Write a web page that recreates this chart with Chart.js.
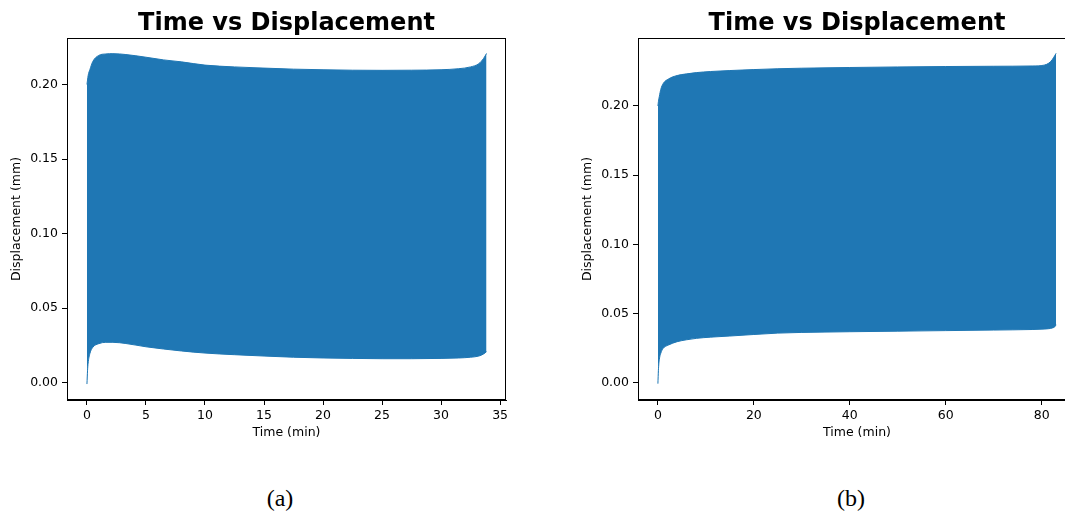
<!DOCTYPE html>
<html lang="en">
<head>
    <meta charset="UTF-8">
    <title>Time vs Displacement</title>
    <script src="https://cdn.jsdelivr.net/npm/chart.js"></script>
    <style>
        body { margin: 0; background: #fff; }
        #wrap { position: relative; width: 1065px; height: 518px; overflow: hidden; background: #fff; }
        canvas { position: absolute; top: 0; }
        .cap { position: absolute; top: 484px; width: 80px; text-align: center;
               font: 24px "Liberation Serif", serif; line-height: 28px; color: #000; }
    </style>
    <script>
        // (a) envelope of the cyclic displacement signal, 0 - 33.85 min
        const timeA  = [0, 0.05, 0.1, 0.25, 0.5, 1.0, 1.6, 2.2, 3.3, 5, 6.5, 8, 10, 12.5, 15, 17.5, 20, 22.5, 25, 27.5, 30, 31.5, 32.5, 33.2, 33.6, 33.85];
        const upperA = [0.200, 0.203, 0.206, 0.210, 0.2155, 0.2195, 0.2205, 0.2207, 0.2201, 0.2183, 0.2165, 0.2152, 0.2130, 0.2118, 0.2110, 0.2103, 0.2099, 0.2096, 0.2095, 0.2096, 0.2099, 0.2106, 0.2118, 0.2140, 0.2175, 0.2208];
        const lowerA = [-0.001, 0.008, 0.013, 0.0195, 0.0237, 0.0261, 0.0270, 0.0270, 0.0262, 0.0240, 0.0225, 0.0212, 0.0198, 0.0187, 0.0178, 0.0170, 0.0165, 0.0162, 0.0160, 0.0160, 0.0162, 0.0165, 0.0170, 0.0178, 0.0192, 0.0207];

        // (b) envelope, 0 - 83 min
        const timeB  = [0, 0.1, 0.3, 0.6, 1.1, 2.2, 4, 6, 8, 11, 15, 20, 25, 30, 40, 50, 60, 70, 78, 80.5, 81.5, 82.2, 82.7, 83.0];
        const upperB = [0.200, 0.203, 0.207, 0.212, 0.2162, 0.2195, 0.2220, 0.2232, 0.2241, 0.2249, 0.2256, 0.2263, 0.2269, 0.2273, 0.2278, 0.2282, 0.2285, 0.2287, 0.2289, 0.2295, 0.2310, 0.2335, 0.2362, 0.2380];
        const lowerB = [-0.0005, 0.009, 0.017, 0.0215, 0.0250, 0.0274, 0.0298, 0.0312, 0.0322, 0.0331, 0.0339, 0.0350, 0.0360, 0.0365, 0.0370, 0.0374, 0.0378, 0.0382, 0.0386, 0.0389, 0.0392, 0.0397, 0.0405, 0.0420];

        const yTicks  = [0, 0.05, 0.10, 0.15, 0.20];
        const xTicksA = [0, 5, 10, 15, 20, 25, 30, 35];
        const xTicksB = [0, 20, 40, 60, 80];

        const blue = '#1f77b4';

        // full box around the plotting area
        const frame = {
            id: 'frame',
            afterDraw(chart) {
                const a = chart.chartArea, c = chart.ctx;
                c.save();
                c.strokeStyle = '#000';
                c.lineWidth = 1;
                c.strokeRect(Math.round(a.left) + 0.5, Math.round(a.top) + 0.5,
                             Math.round(a.right - a.left) - 1, Math.round(a.bottom - a.top) - 1);
                c.restore();
            }
        };

        function drawPanel(id, t, up, lo, xTicks, xr, yr, padRight) {
            const pts = arr => t.map((x, i) => ({ x: x, y: arr[i] }));
            new Chart(document.getElementById(id), {
                type: 'line',
                data: {
                    datasets: [
                        { data: pts(up), borderColor: blue, backgroundColor: blue, borderWidth: 1,
                          pointRadius: 0, fill: '+1', cubicInterpolationMode: 'monotone' },
                        { data: pts(lo), borderColor: blue, borderWidth: 1,
                          pointRadius: 0, fill: false, cubicInterpolationMode: 'monotone' }
                    ]
                },
                options: {
                    responsive: false,
                    animation: false,
                    devicePixelRatio: 1,
                    layout: { padding: { left: 0, right: padRight, top: 0, bottom: 0 } },
                    plugins: {
                        legend: { display: false },
                        tooltip: { enabled: false },
                        title: {
                            display: true, text: 'Time vs Displacement', color: '#000', fullSize: false,
                            font: { size: 24, weight: 'bold' }, padding: { top: 9, bottom: 0.2 }
                        }
                    },
                    scales: {
                        x: {
                            type: 'linear', min: xr[0], max: xr[1],
                            afterBuildTicks: s => { s.ticks = xTicks.map(v => ({ value: v })); },
                            afterFit: s => { s.height = 60; },
                            ticks: { color: '#000', font: { size: 12.5 }, padding: 3, callback: v => String(v) },
                            grid: { drawOnChartArea: false, drawTicks: true, tickLength: 5, color: '#000' },
                            border: { display: true, color: '#000', width: 1 },
                            title: { display: true, text: 'Time (min)', color: '#000', font: { size: 12.5 },
                                     padding: { top: 0, bottom: 19.5 } }
                        },
                        y: {
                            min: yr[0], max: yr[1],
                            afterBuildTicks: s => { s.ticks = yTicks.map(v => ({ value: v })); },
                            afterFit: s => { s.width = 67; },
                            ticks: { color: '#000', font: { size: 12.5 }, padding: 4, callback: v => v.toFixed(2) },
                            grid: { drawOnChartArea: false, drawTicks: true, tickLength: 5, color: '#000' },
                            border: { display: true, color: '#000', width: 1 },
                            title: { display: true, text: 'Displacement (mm)', color: '#000', font: { size: 12.5 },
                                     padding: { top: 9.5, bottom: 0 } }
                        }
                    }
                },
                plugins: [frame]
            });
        }

        window.onload = function() {
            Chart.defaults.font.family = '"DejaVu Sans", sans-serif';
            drawPanel('chartA', timeA, upperA, lowerA, xTicksA, [-1.69, 35.5], [-0.0117, 0.2312], 34);
            drawPanel('chartB', timeB, upperB, lowerB, xTicksB, [-4.15, 87.15], [-0.0123, 0.2491], 44);
        }
    </script>
</head>
<body>
    <div id="wrap">
        <canvas id="chartA" width="540" height="460" style="left:0"></canvas>
        <canvas id="chartB" width="549" height="460" style="left:571px"></canvas>
        <div class="cap" style="left:240px">(a)</div>
        <div class="cap" style="left:811px">(b)</div>
    </div>
</body>
</html>
